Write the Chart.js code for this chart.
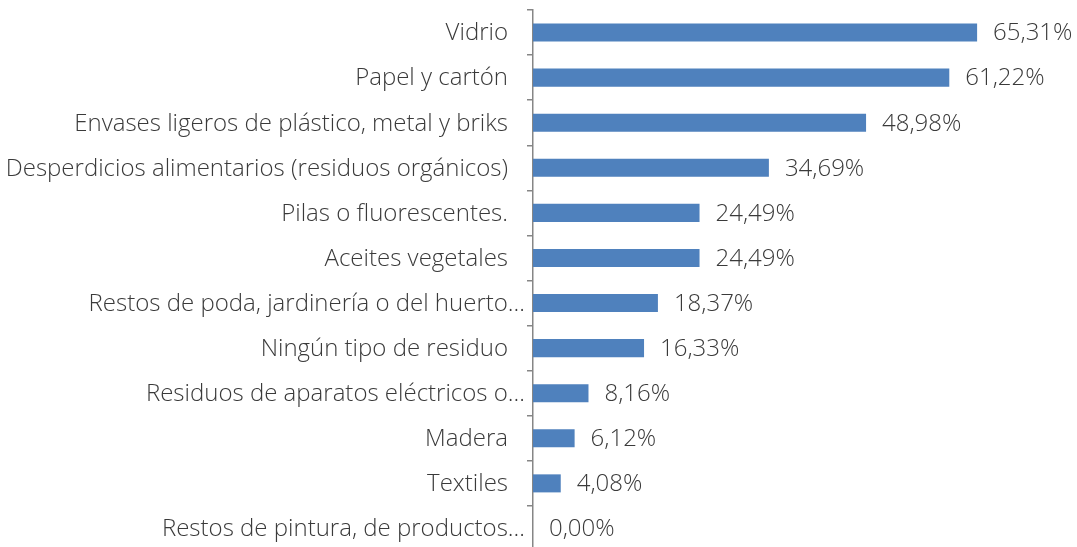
<!DOCTYPE html>
<html>
<head>
<meta charset="utf-8">
<script src="https://cdn.jsdelivr.net/npm/chart.js@4/dist/chart.umd.min.js"></script>
<style>
  html, body { margin: 0; padding: 0; background: #fff; overflow: hidden; }
  #wrap { width: 1077px; height: 551px; position: relative; }
</style>
</head>
<body>
<div id="wrap"><canvas id="chart"></canvas></div>
<script>
const categories = [
  "Vidrio",
  "Papel y cartón",
  "Envases ligeros de plástico, metal y briks",
  "Desperdicios alimentarios (residuos orgánicos)",
  "Pilas o fluorescentes.",
  "Aceites vegetales",
  "Restos de poda, jardinería o del huerto…",
  "Ningún tipo de residuo",
  "Residuos de aparatos eléctricos o…",
  "Madera",
  "Textiles",
  "Restos de pintura, de productos…"
];
const percentages = [65.31, 61.22, 48.98, 34.69, 24.49, 24.49, 18.37, 16.33, 8.16, 6.12, 4.08, 0.00];

const barColor = "#4f81bd";
const textColor = "#3a3a3a";
const fontFamily = "'Open Sans', sans-serif";
const fontSize = 24;
const fontWeight = 300;

// category labels: truncated ones (ending in "…") run right up to the axis, like the original
const categoryLabels = {
  id: "categoryLabels",
  afterDraw(chart) {
    const ctx = chart.ctx;
    const yScale = chart.scales.y;
    ctx.save();
    ctx.font = fontWeight + " " + fontSize + "px " + fontFamily;
    ctx.fillStyle = textColor;
    ctx.textAlign = "right";
    ctx.textBaseline = "middle";
    categories.forEach((label, i) => {
      const truncated = label.endsWith("…");
      const x = yScale.right - (truncated ? 8 : 25);
      ctx.fillText(label, x, yScale.getPixelForTick(i) + 1);
    });
    ctx.restore();
  }
};

const valueLabels = {
  id: "valueLabels",
  afterDatasetsDraw(chart) {
    const ctx = chart.ctx;
    const meta = chart.getDatasetMeta(0);
    ctx.save();
    ctx.font = fontWeight + " " + fontSize + "px " + fontFamily;
    ctx.fillStyle = textColor;
    ctx.textAlign = "left";
    ctx.textBaseline = "middle";
    meta.data.forEach((bar, i) => {
      const text = percentages[i].toFixed(2).replace(".", ",") + "%";
      ctx.fillText(text, bar.x + 16, bar.y + 1);
    });
    ctx.restore();
  }
};

new Chart(document.getElementById("chart").getContext("2d"), {
  type: "bar",
  data: {
    labels: categories,
    datasets: [{
      data: percentages,
      backgroundColor: barColor,
      borderWidth: 0,
      barPercentage: 0.4,
      categoryPercentage: 1.0
    }]
  },
  options: {
    indexAxis: "y",
    animation: false,
    responsive: true,
    maintainAspectRatio: false,
    layout: { padding: { top: 10, right: 0, bottom: 0, left: 0 } },
    plugins: {
      legend: { display: false },
      tooltip: { enabled: false }
    },
    scales: {
      x: {
        display: false,
        min: 0,
        max: 80
      },
      y: {
        afterFit(scale) {
          scale.width = 533;
          scale.paddingTop = 0;
          scale.paddingBottom = 0;
        },
        border: { display: true, color: "#868686", width: 1.5 },
        grid: {
          offset: true,
          drawOnChartArea: false,
          drawTicks: true,
          tickLength: 6,
          color: "#868686",
          lineWidth: 1.5
        },
        ticks: {
          display: false,
          autoSkip: false
        }
      }
    }
  },
  plugins: [valueLabels, categoryLabels]
});
</script>
</body>
</html>
